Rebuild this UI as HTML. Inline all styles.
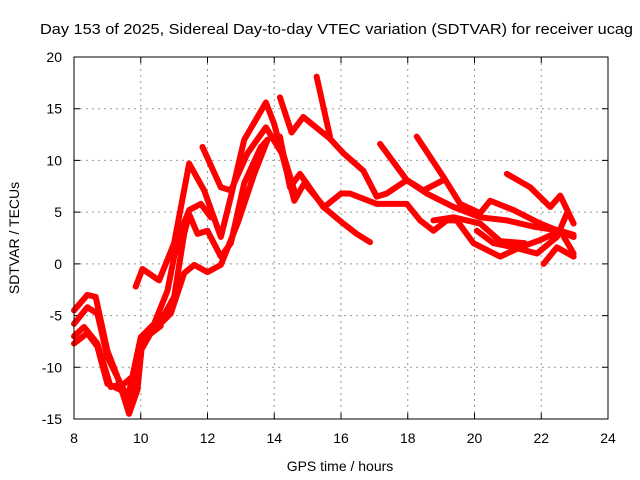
<!DOCTYPE html>
<html><head><meta charset="utf-8"><style>
html,body{margin:0;padding:0;background:#fff;}
svg{display:block;font-family:"Liberation Sans",sans-serif;}
</style></head><body>
<svg id="chart" width="640" height="480" viewBox="0 0 640 480">
<text x="40" y="34" font-size="15" textLength="593" lengthAdjust="spacingAndGlyphs">Day 153 of 2025, Sidereal Day-to-day VTEC variation (SDTVAR) for receiver ucag</text>
<g id="grid"></g>
<g id="ticks"></g>
<g id="series"></g>
<rect x="74" y="57" width="534" height="362" fill="none" stroke="#000" stroke-width="1"/>
<text x="340" y="471" font-size="14" text-anchor="middle">GPS time / hours</text>
<text transform="translate(19,238) rotate(-90)" font-size="14" text-anchor="middle">SDTVAR / TECUs</text>
</svg>
<script>
const xTicks=[8,10,12,14,16,18,20,22,24];
const yTicks=[-15,-10,-5,0,5,10,15,20];
const trackT1=[[9.85,-2.2],[10.05,-0.5],[10.55,-1.6],[11.0,2],[11.45,9.7],[11.9,7.1],[12.4,2.6],[12.7,6.5],[13.1,12],[13.75,15.6],[14.0,13.5],[14.6,6.1],[14.9,7.8],[15.5,5.5],[16.0,6.8],[16.27,6.8],[17.07,5.8],[17.97,5.8],[18.37,4.2],[18.77,3.2],[19.17,4.2],[19.47,4.2],[19.97,2.0],[20.77,0.7],[21.37,1.6],[21.97,2.3],[22.57,3.2],[22.97,1.0]];
const trackT2=[[11.85,11.3],[12.4,7.4],[12.7,7.1],[13.2,10.7],[13.75,13.2],[14.3,10.3],[14.6,7.1]];
const trackT3=[[14.17,16.1],[14.52,12.7],[14.87,14.2],[15.67,12.1],[16.07,10.7],[16.67,9.0],[17.07,6.5],[17.37,6.8],[17.97,8.1],[18.47,7.1],[19.07,8.1]];
const trackT4=[[15.27,18.1],[15.67,12.3]];
const trackT5=[[14.17,12.3],[14.47,7.4],[14.77,8.7],[15.47,5.5],[16.07,3.9],[16.47,2.9],[16.87,2.1]];
const trackT6=[[17.17,11.6],[17.97,8.1],[18.57,6.8],[19.37,5.5],[20.17,4.5],[20.97,4.2],[21.77,3.6],[22.57,3.2],[22.97,2.8]];
const trackT7=[[18.27,12.3],[19.07,8.4],[19.57,5.8],[20.17,4.9],[20.47,6.1],[21.17,5.2],[21.97,3.9],[22.97,2.6]];
const trackT8=[[20.07,3.2],[20.57,2.0],[21.17,1.6],[21.87,1.0],[22.47,2.6],[22.77,4.9]];
const trackT9=[[20.97,8.7],[21.67,7.4],[22.27,5.5],[22.57,6.6],[22.97,3.9]];
const trackT10=[[22.07,0],[22.47,1.6],[22.97,0.7]];
const trackT11=[[18.77,4.2],[19.37,4.5],[20.17,3.9],[20.77,2.2],[21.5,2.0]];
const trackE1=[[8,-4.5],[8.4,-3.0],[8.65,-3.2],[9.0,-8.4],[9.3,-10.9],[9.65,-14.5],[9.9,-12.2],[10.05,-7.4],[10.4,-6.4],[10.9,-4.8],[11.3,-0.9],[11.6,-0.1],[12,-0.8],[12.4,-0.1],[12.9,3.9],[13.4,8.7],[13.8,12]];
const trackE2=[[8,-5.8],[8.4,-4.2],[8.7,-4.8],[9,-9],[9.4,-11.6],[9.7,-13.5],[10,-8.4],[10.3,-6.7],[10.6,-5.5],[11,-3.2],[11.3,2.9],[11.45,4.8],[11.7,2.9],[12,3.2],[12.4,0.7],[12.7,2],[13.1,7.8],[13.6,11.3],[13.8,12]];
const trackE3=[[8,-7],[8.3,-6.1],[8.7,-7.7],[9.1,-11.9],[9.5,-11.6],[9.75,-10.9],[10,-7.1],[10.4,-5.8],[10.8,-2.6],[11,0.7],[11.2,3.2],[11.45,5.2],[11.8,5.8],[12.1,4.5]];
const trackE4=[[8,-7.7],[8.4,-6.7],[8.7,-8],[9,-11.6],[9.4,-12.2],[9.6,-13],[9.9,-9],[10.2,-7],[10.6,-6]];
const tracks=[trackT1,trackT2,trackT3,trackT4,trackT5,trackT6,trackT7,trackT8,trackT9,trackT10,trackT11,trackE1,trackE2,trackE3,trackE4];
const NS="http://www.w3.org/2000/svg";
const X0=74,X1=608,Y0=419,Y1=57;
function xs(t){return X0+(t-8)/(24-8)*(X1-X0);}
function ys(v){return Y0-(v+15)/35*(Y0-Y1);}
const grid=document.getElementById('grid'),ticks=document.getElementById('ticks'),series=document.getElementById('series');
function mk(tag,attrs,parent){const e=document.createElementNS(NS,tag);for(const k in attrs)e.setAttribute(k,attrs[k]);parent.appendChild(e);return e;}
xTicks.forEach(t=>{
  const x=xs(t);
  if(t>8&&t<24){const g=mk('line',{x1:x,x2:x,y1:Y1,y2:Y0,stroke:'#999','stroke-dasharray':'2,4'},grid);
  
  }
  const tk=mk('path',{d:`M${x},${Y0}v-6M${x},${Y1}v6`,stroke:'#000'},ticks);
  
  
  const l=mk('text',{x:x,y:443,'font-size':14,'text-anchor':'middle'},ticks);l.textContent=t;
  
  
});
yTicks.forEach(v=>{
  const y=ys(v);
  if(v>-15&&v<20){const g=mk('line',{x1:X0,x2:X1,y1:y,y2:y,stroke:'#999','stroke-dasharray':'2,4'},grid);
  
  }
  const tk=mk('path',{d:`M${X0},${y}h6M${X1},${y}h-6`,stroke:'#000'},ticks);
  
  
  const l=mk('text',{x:62,y:y+5,'font-size':14,'text-anchor':'end'},ticks);l.textContent=v;
  
  
});
tracks.forEach((tr,i)=>{
  const p=mk('polyline',{points:tr.map(d=>xs(d[0])+','+ys(d[1])).join(' '),fill:'none',stroke:'#ff0000','stroke-width':6,'stroke-linejoin':'round','stroke-linecap':'round'},series);
  
  
});
</script>
</body></html>
